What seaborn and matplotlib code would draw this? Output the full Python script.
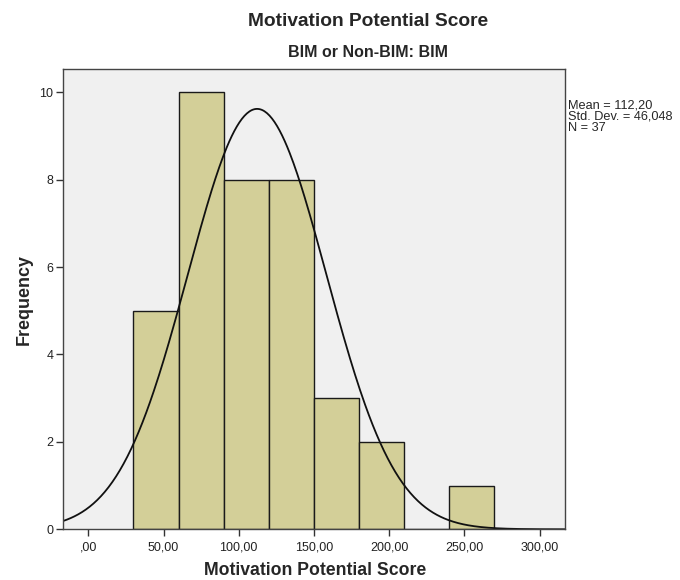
import numpy as np
import pandas as pd
import matplotlib
matplotlib.use("Agg")
import matplotlib.pyplot as plt
import seaborn as sns

# Histogram bins (lower edges) and frequencies
bin_lower = [30, 60, 90, 120, 150, 180, 210, 240]
bin_width = 30
counts = [5, 10, 8, 8, 3, 2, 0, 1]

mean_val = 112.20
sd_val = 46.048
n_val = 37

x_ticks = [0, 50, 100, 150, 200, 250, 300]
x_tick_labels = [",00", "50,00", "100,00", "150,00", "200,00", "250,00", "300,00"]
y_ticks = [0, 2, 4, 6, 8, 10]

sns.set_theme(style="white")
plt.rcParams["font.family"] = ["Liberation Sans", "DejaVu Sans"]

fig = plt.figure(figsize=(6.8, 5.8), dpi=100)
ax = fig.add_axes([0.093, 0.0874, 0.738, 0.7937])
ax.set_facecolor("#F0F0F0")

df = pd.DataFrame({
    "score": [b + bin_width / 2 for b in bin_lower],
    "freq": counts,
})
edges = bin_lower + [bin_lower[-1] + bin_width]
sns.histplot(data=df, x="score", weights="freq", bins=edges, ax=ax,
             color="#D3CF98", alpha=1.0, edgecolor="#1a1a1a", linewidth=1.0)

# Fitted normal curve scaled to frequencies
xlim = (-16.7, 317)
xs = np.linspace(xlim[0], xlim[1], 400)
ys = n_val * bin_width / (sd_val * np.sqrt(2 * np.pi)) * np.exp(-0.5 * ((xs - mean_val) / sd_val) ** 2)
sns.lineplot(x=xs, y=ys, ax=ax, color="#111111", linewidth=1.3)

ax.set_xlim(*xlim)
ax.set_ylim(0, 10.53)
ax.set_xticks(x_ticks)
ax.set_xticklabels(x_tick_labels, fontsize=9, color="#222222")
ax.set_yticks(y_ticks)
ax.set_yticklabels([str(v) for v in y_ticks], fontsize=9, color="#222222")
ax.tick_params(axis="x", direction="out", length=5, width=1.0, color="#333333",
               bottom=True, pad=4)
ax.tick_params(axis="y", direction="out", length=5, width=1.0, color="#333333",
               left=True, pad=2)

for spine in ax.spines.values():
    spine.set_color("#444444")
    spine.set_linewidth(1.0)

ax.set_xlabel("")
ax.set_ylabel("Frequency", fontsize=12.9, fontweight="bold", labelpad=5)
fig.text(0.464, 0.009, "Motivation Potential Score", ha="center", va="baseline",
         fontsize=12.7, fontweight="bold")

fig.text(0.5415, 0.963, "Motivation Potential Score", ha="center", va="center",
         fontsize=13.8, fontweight="bold")
fig.text(0.5415, 0.910, "BIM or Non-BIM: BIM", ha="center", va="center",
         fontsize=11.5, fontweight="bold")
fig.text(0.836, 0.829, "Mean = 112,20\nStd. Dev. = 46,048\nN = 37", ha="left", va="top",
         fontsize=9.2, linespacing=0.92)

fig.savefig("out.png", dpi=100, facecolor="white")
